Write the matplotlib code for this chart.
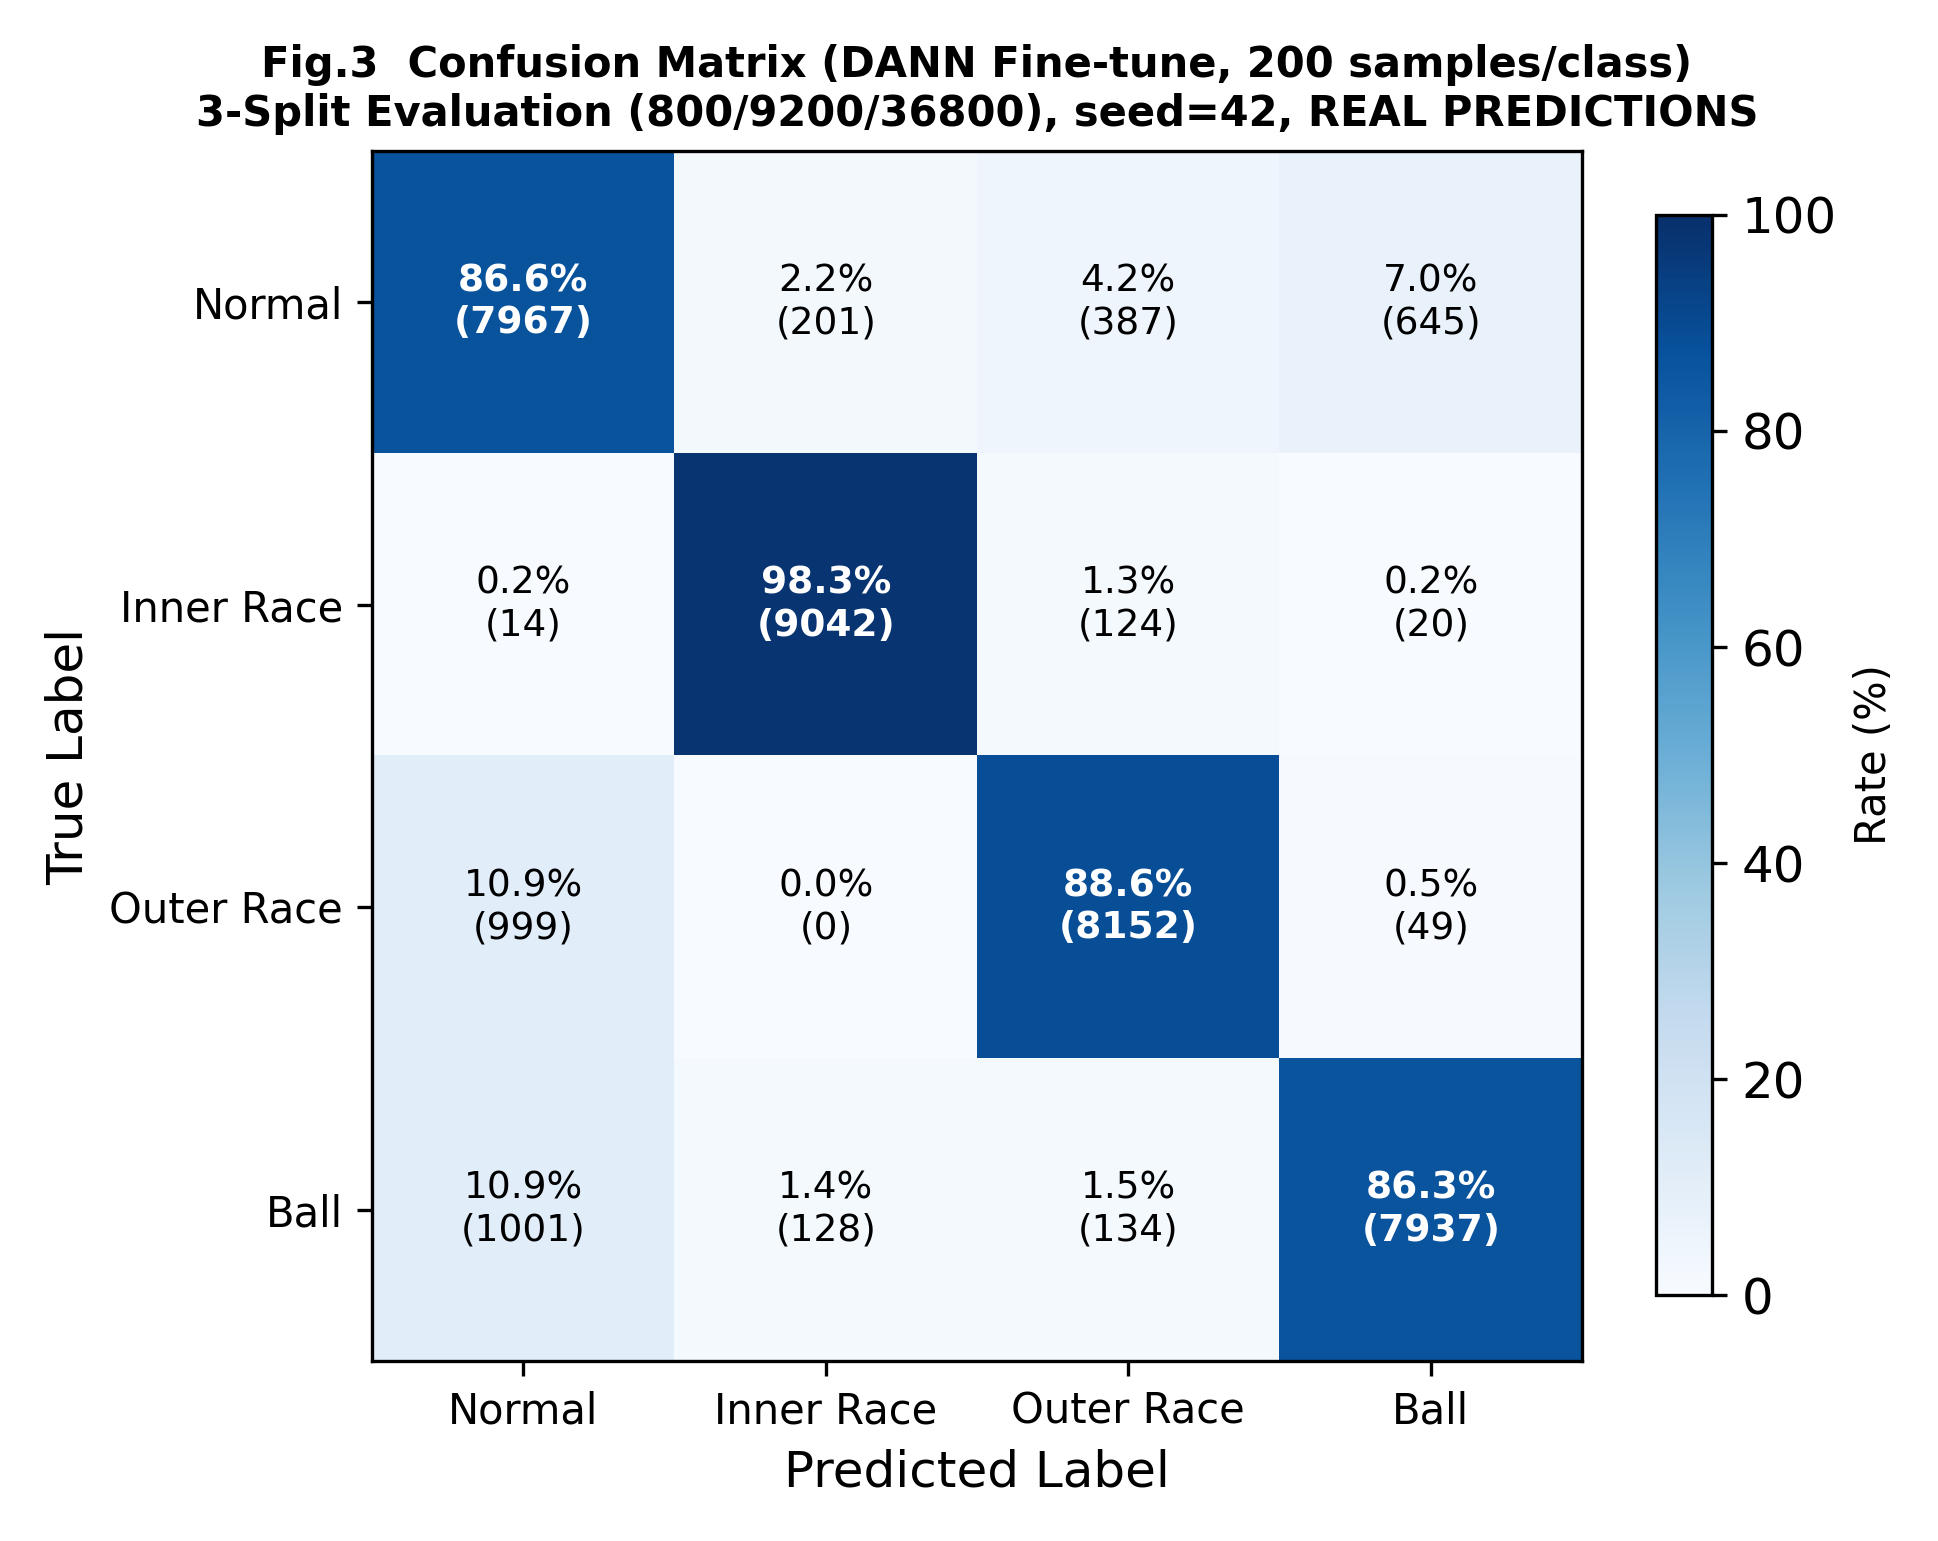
import numpy as np
import matplotlib
matplotlib.use("Agg")
import matplotlib.pyplot as plt

# class names and raw counts (rows = true, cols = predicted)
class_names = ["Normal", "Inner Race", "Outer Race", "Ball"]
counts_normal = [7967, 201, 387, 645]
counts_inner = [14, 9042, 124, 20]
counts_outer = [999, 0, 8152, 49]
counts_ball = [1001, 128, 134, 7937]

cm = np.array([counts_normal, counts_inner, counts_outer, counts_ball])
cm_pct = cm / cm.sum(axis=1, keepdims=True) * 100

fig = plt.figure(figsize=(1939 / 300, 1541 / 300), dpi=300)
ax = fig.add_axes([0.1919, 0.1168, 0.6240, 0.7852])
cax = fig.add_axes([0.8541, 0.1596, 0.0289, 0.7009])

im = ax.imshow(cm_pct, cmap="Blues", vmin=0, vmax=100, aspect="auto")

cbar = fig.colorbar(im, cax=cax)
cbar.set_ticks([0, 20, 40, 60, 80, 100])
cbar.ax.tick_params(labelsize=12)
cbar.set_label("Rate (%)", fontsize=10)

ax.set_xticks(range(len(class_names)))
ax.set_yticks(range(len(class_names)))
ax.set_xticklabels(class_names, fontsize=10)
ax.set_yticklabels(class_names, fontsize=10)
ax.set_xlabel("Predicted Label", fontsize=12)
ax.set_ylabel("True Label", fontsize=12)
ax.set_title("Fig.3  Confusion Matrix (DANN Fine-tune, 200 samples/class)\n"
             "3-Split Evaluation (800/9200/36800), seed=42, REAL PREDICTIONS",
             fontsize=10, fontweight="bold")

for i in range(cm.shape[0]):
    for j in range(cm.shape[1]):
        val = cm_pct[i, j]
        hi = val > 50
        ax.text(j, i, f"{val:.1f}%\n({cm[i, j]})", ha="center", va="center",
                fontsize=9, color="white" if hi else "black",
                fontweight="bold" if hi else "normal")

fig.savefig("out.png", dpi=300)
